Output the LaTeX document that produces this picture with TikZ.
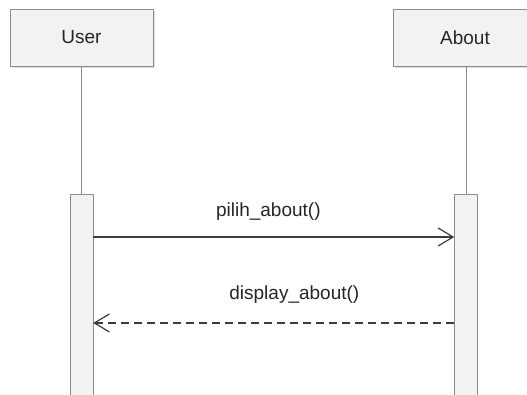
\documentclass[tikz,border=0pt]{standalone}
\usepackage{fontspec}
\setmainfont{Liberation Sans}
\usepackage{xcolor}
\usetikzlibrary{arrows.meta,calc,positioning,shadows}
\definecolor{boxline}{HTML}{8C8C8C}
\definecolor{boxfill}{HTML}{F2F2F2}
\definecolor{msgline}{HTML}{3C3C3C}
\tikzset{%
	object/.style   = {draw=boxline, fill=boxfill, rectangle, minimum width=143, minimum height=57, inner sep=0pt, font=\fontsize{19}{22}\selectfont, text=black!85, drop shadow={shadow xshift=1.5pt, shadow yshift=-1.5pt, opacity=.25}}, % Lifeline head
	activation/.style = {draw=boxline, fill=boxfill, rectangle, minimum width=23, minimum height=215, inner sep=0pt, anchor=north}, % Activation bar
	lifeline/.style = {draw=boxline, line width=1pt},
	msg/.style      = {draw=msgline, line width=1.2pt, -{Straight Barb[length=15pt, width=18pt, line width=1.2pt]}},
	reply/.style    = {msg, dash pattern=on 8pt off 5pt},
	msglabel/.style = {font=\fontsize{19}{22}\selectfont, text=black!85, inner sep=0pt},
}

\begin{document}
\begin{tikzpicture}[x=1pt,y=-1pt]
	\clip (0,0) rectangle (527,394);
	\fill[white] (0,0) rectangle (527,394);
	\node [object] (user) at (81.5,37.5) {User};
	\node [object] (about) at (465,37.5) {About};
	\node [activation] (userbar) at (81.5,194) {};
	\node [activation] (aboutbar) at (466,194) {};
	
	\draw[lifeline] (user) -- (userbar);
	\draw[lifeline] (about.south -| aboutbar.north) -- (aboutbar);
	
	\coordinate (pilihS) at ($(userbar.north east)+(0,43)$);
	\coordinate (pilihE) at (pilihS -| aboutbar.west);
	\coordinate (displayS) at ($(aboutbar.north west)+(0,129)$);
	\coordinate (displayE) at (displayS -| userbar.east);
	
	\draw[msg] (pilihS) -- node[msglabel, pos=0.485, yshift=25pt] (pilihlbl) {pilih\_about()} (pilihE);
	\draw[reply] (displayS) -- node[msglabel, pos=0.443, yshift=28pt] (displaylbl) {display\_about()} (displayE);
\end{tikzpicture}
\end{document}
